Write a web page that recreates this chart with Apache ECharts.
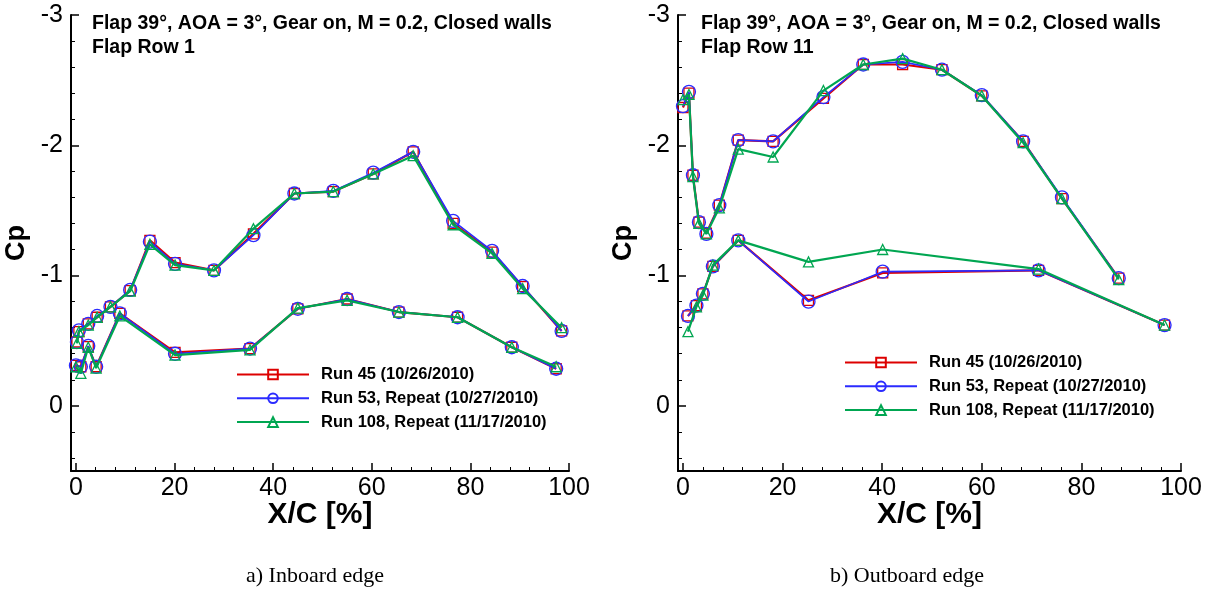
<!DOCTYPE html>
<html>
<head>
<meta charset="utf-8">
<script src="https://cdn.jsdelivr.net/npm/echarts@6/dist/echarts.min.js"></script>
<style>
  html, body { margin: 0; padding: 0; background: #ffffff; }
  #chart { width: 1211px; height: 594px; }
</style>
</head>
<body>
<div id="chart"></div>
<script>
// ---- Axis ticks ----
const xMajorTicks = [0, 20, 40, 60, 80, 100];
const xMinorTicks = [4, 8, 12, 16, 24, 28, 32, 36, 44, 48, 52, 56, 64, 68, 72, 76, 84, 88, 92, 96];
const yMajorTicks = [-3, -2, -1, 0];
const yMinorTicks = [-2.8, -2.6, -2.4, -2.2, -1.8, -1.6, -1.4, -1.2, -0.8, -0.6, -0.4, -0.2, 0.2, 0.4];

// ---- Runs ----
const runNames = ['Run 45 (10/26/2010)', 'Run 53, Repeat (10/27/2010)', 'Run 108, Repeat (11/17/2010)'];

// ---- a) Inboard edge, Flap Row 1 ----
const inbUpperX     = [0.2, 0.6, 2.5, 4.3, 7.0, 11.0, 15.0, 20.1, 28.0, 36.0, 44.3, 52.2, 60.3, 68.4, 76.5, 84.4, 90.6, 98.5];
const inbUpperRun45 = [-0.49, -0.57, -0.63, -0.68, -0.76, -0.885, -1.27, -1.10, -1.04, -1.32, -1.63, -1.645, -1.78, -1.95, -1.40, -1.18, -0.915, -0.575];
const inbUpperRun53 = [-0.49, -0.58, -0.63, -0.69, -0.76, -0.89, -1.26, -1.09, -1.04, -1.31, -1.63, -1.65, -1.79, -1.95, -1.42, -1.19, -0.92, -0.575];
const inbUpperRun108 = [-0.48, -0.57, -0.62, -0.68, -0.76, -0.88, -1.24, -1.08, -1.04, -1.36, -1.63, -1.645, -1.78, -1.92, -1.39, -1.17, -0.90, -0.60];

const inbLowerX     = [0, 1.0, 2.5, 4.1, 8.9, 20.1, 35.3, 45.0, 55.0, 65.5, 77.4, 88.4, 97.4];
const inbLowerRun45 = [-0.31, -0.30, -0.455, -0.30, -0.71, -0.41, -0.44, -0.745, -0.82, -0.72, -0.68, -0.45, -0.285];
const inbLowerRun53 = [-0.31, -0.30, -0.46, -0.30, -0.71, -0.40, -0.44, -0.745, -0.82, -0.72, -0.68, -0.45, -0.285];
const inbLowerRun108 = [-0.30, -0.25, -0.45, -0.29, -0.69, -0.39, -0.43, -0.75, -0.81, -0.72, -0.68, -0.45, -0.30];

// ---- b) Outboard edge, Flap Row 11 ----
const outUpperX     = [0, 1.2, 2.0, 3.2, 4.7, 7.3, 11.1, 18.1, 28.2, 36.2, 44.1, 52.0, 60.0, 68.3, 76.1, 87.5];
const outUpperRun45 = [-2.29, -2.40, -1.77, -1.41, -1.325, -1.54, -2.04, -2.03, -2.36, -2.62, -2.62, -2.58, -2.38, -2.03, -1.59, -0.98];
const outUpperRun53 = [-2.30, -2.41, -1.77, -1.41, -1.32, -1.54, -2.04, -2.03, -2.37, -2.62, -2.64, -2.58, -2.385, -2.03, -1.60, -0.98];
const outUpperRun108 = [-2.35, -2.39, -1.76, -1.40, -1.32, -1.52, -1.97, -1.91, -2.42, -2.62, -2.665, -2.58, -2.38, -2.02, -1.59, -0.97];

const outLowerX     = [1.0, 2.7, 4.0, 6.0, 11.1, 25.2, 40.1, 71.4, 96.7];
const outLowerRun45 = [-0.69, -0.77, -0.86, -1.07, -1.27, -0.81, -1.02, -1.04, -0.62];
const outLowerRun53 = [-0.69, -0.77, -0.86, -1.07, -1.27, -0.80, -1.03, -1.04, -0.62];
const outLowerRun108 = [-0.57, -0.76, -0.85, -1.08, -1.27, -1.105, -1.20, -1.05, -0.62];

// ---- Styling ----
const runColors = ['#dd0000', '#2b2bff', '#00a651'];
const runSymbols = ['rect', 'circle', 'triangle'];
const runSymbolSizes = [10, 13, 10];
const runLineWidths = [2.2, 1.6, 2.2];
const sansFont = '"Liberation Sans", Arial, sans-serif';
const serifFont = '"Liberation Serif", "Times New Roman", serif';

const pair = (xs, ys) => xs.map((x, i) => [x, ys[i]]);

function curve(runIdx, xs, ys, axisIdx) {
  return {
    type: 'line',
    name: runNames[runIdx],
    xAxisIndex: axisIdx,
    yAxisIndex: axisIdx,
    data: pair(xs, ys),
    color: runColors[runIdx],
    symbol: runSymbols[runIdx],
    symbolSize: runSymbolSizes[runIdx],
    showAllSymbol: true,
    lineStyle: { color: runColors[runIdx], width: runLineWidths[runIdx] },
    itemStyle: { color: 'rgba(255,255,255,0)', borderColor: runColors[runIdx], borderWidth: 1.3 },
    emphasis: { disabled: true },
    z: 2 + runIdx
  };
}

const panels = [
  { upperX: inbUpperX, upper: [inbUpperRun45, inbUpperRun53, inbUpperRun108],
    lowerX: inbLowerX, lower: [inbLowerRun45, inbLowerRun53, inbLowerRun108] },
  { upperX: outUpperX, upper: [outUpperRun45, outUpperRun53, outUpperRun108],
    lowerX: outLowerX, lower: [outLowerRun45, outLowerRun53, outLowerRun108] }
];

const series = [];
panels.forEach((p, pi) => {
  for (let r = 0; r < 3; r++) {
    series.push(curve(r, p.lowerX, p.lower[r], pi));
    series.push(curve(r, p.upperX, p.upper[r], pi));
  }
});

// Plot frames: grids 0/1 carry data and major ticks, grids 2/3 carry minor ticks
const frames = [
  { left: 71, top: 15, width: 498, height: 456 },
  { left: 678, top: 15, width: 503, height: 456 }
];
const grid = frames.concat(frames).map(f => Object.assign({ containLabel: false }, f));

function majorX(gi) {
  return {
    type: 'value', gridIndex: gi, min: -1, max: 100,
    name: 'X/C [%]', nameLocation: 'middle', nameGap: 29, nameMoveOverlap: false,
    nameTextStyle: { fontFamily: sansFont, fontWeight: 'bold', fontSize: 30, color: '#000' },
    axisLine: { onZero: false, lineStyle: { color: '#000', width: 2 } },
    axisTick: { customValues: xMajorTicks, inside: true, length: 8, lineStyle: { color: '#000', width: 1.5 } },
    axisLabel: { customValues: xMajorTicks, margin: 5, fontFamily: sansFont, fontSize: 25, color: '#000' },
    splitLine: { show: false }
  };
}
function minorX(gi) {
  return {
    type: 'value', gridIndex: gi, min: -1, max: 100,
    axisLine: { show: false, onZero: false },
    axisTick: { customValues: xMinorTicks, inside: true, length: 4, lineStyle: { color: '#000', width: 1 } },
    axisLabel: { show: false },
    splitLine: { show: false }
  };
}
function majorY(gi) {
  return {
    type: 'value', gridIndex: gi, min: -3, max: 0.5, inverse: true,
    name: 'Cp', nameLocation: 'middle', nameGap: 41, nameRotate: 90,
    nameTextStyle: { fontFamily: sansFont, fontWeight: 'bold', fontSize: 27, color: '#000' },
    axisLine: { onZero: false, lineStyle: { color: '#000', width: 2 } },
    axisTick: { customValues: yMajorTicks, inside: true, length: 8, lineStyle: { color: '#000', width: 1.5 } },
    axisLabel: { customValues: yMajorTicks, margin: 8, fontFamily: sansFont, fontSize: 25, color: '#000' },
    splitLine: { show: false }
  };
}
function minorY(gi) {
  return {
    type: 'value', gridIndex: gi, min: -3, max: 0.5, inverse: true,
    axisLine: { show: false, onZero: false },
    axisTick: { customValues: yMinorTicks, inside: true, length: 4, lineStyle: { color: '#000', width: 1 } },
    axisLabel: { show: false },
    splitLine: { show: false }
  };
}

const legendBase = {
  orient: 'vertical', itemWidth: 72, itemHeight: 12, itemGap: 6.8, padding: 0,
  selectedMode: false, data: runNames,
  textStyle: { fontFamily: sansFont, fontWeight: 'bold', fontSize: 16.5, color: '#000', padding: [0, 0, 0, 7] }
};

const titleLines = 'Flap 39\u00b0, AOA = 3\u00b0, Gear on, M = 0.2, Closed walls';

const option = {
  animation: false,
  backgroundColor: '#ffffff',
  grid: grid,
  xAxis: [majorX(0), majorX(1), minorX(2), minorX(3)],
  yAxis: [majorY(0), majorY(1), minorY(2), minorY(3)],
  legend: [
    Object.assign({ left: 236, top: 366 }, legendBase),
    Object.assign({ left: 844, top: 354 }, legendBase)
  ],
  graphic: [
    { type: 'text', left: 92, top: 12, style: { text: titleLines + '\nFlap Row 1', font: 'bold 19.5px ' + sansFont, lineHeight: 24, fill: '#000' } },
    { type: 'text', left: 701, top: 12, style: { text: titleLines + '\nFlap Row 11', font: 'bold 19.5px ' + sansFont, lineHeight: 24, fill: '#000' } },
    { type: 'text', x: 315, y: 576, style: { text: 'a) Inboard edge', font: '22px ' + serifFont, fill: '#000', align: 'center', verticalAlign: 'middle' } },
    { type: 'text', x: 907, y: 576, style: { text: 'b) Outboard edge', font: '22px ' + serifFont, fill: '#000', align: 'center', verticalAlign: 'middle' } }
  ],
  series: series
};

const chart = echarts.init(document.getElementById('chart'), null, { renderer: 'canvas' });
chart.setOption(option);
</script>
</body>
</html>
